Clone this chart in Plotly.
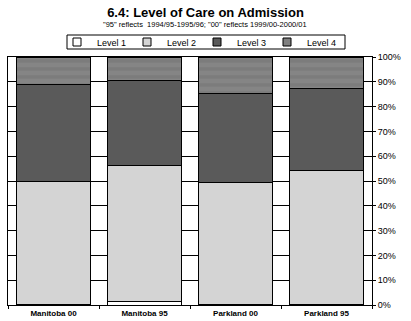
import plotly.graph_objects as go

categories = ["Manitoba 00", "Manitoba 95", "Parkland 00", "Parkland 95"]
level1 = [0.4, 1.6, 0.1, 0.1]
level2 = [49.2, 54.7, 49.1, 54.3]
level3 = [39.3, 34.3, 36.1, 32.8]
level4 = [11.1, 9.4, 14.7, 12.8]
series_names = ["Level 1", "Level 2", "Level 3", "Level 4"]
tick_vals = [0, 10, 20, 30, 40, 50, 60, 70, 80, 90, 100]
tick_text = [f"{v}%" for v in tick_vals]

FONT = "Liberation Sans, Arial, sans-serif"
W, H = 411, 321
ML, MR, MT, MB = 8, 39, 57, 16
PW, PH = W - ML - MR, H - MT - MB

def px_x(x):
    return (x - ML) / PW

def px_y(y):
    return (H - MB - y) / PH

fig = go.Figure()
colors = ["#ffffff", "#d4d4d4", "#5a5a5a", "#808080"]
styles = [
    dict(color=colors[0]),
    dict(color=colors[1]),
    dict(color=colors[2]),
    dict(color=colors[3], pattern=dict(shape="-", fgcolor="#747474", bgcolor="#858585", size=8, solidity=0.45)),
]
for name, vals, st in zip(series_names, [level1, level2, level3, level4], styles):
    fig.add_trace(go.Bar(
        x=categories, y=vals, name=name, showlegend=False,
        marker=dict(line=dict(color="#000000", width=1), **st),
    ))
# legend keys (small squares as in the reference)
for name, col in zip(series_names, colors):
    fig.add_trace(go.Scatter(
        x=[None], y=[None], mode="markers", name=name, showlegend=True,
        marker=dict(symbol="square", size=8, color=col, line=dict(color="black", width=1)),
    ))

fig.update_layout(
    barmode="stack",
    bargap=0.19,
    width=W, height=H,
    margin=dict(l=ML, r=MR, t=MT, b=MB, autoexpand=False),
    paper_bgcolor="white", plot_bgcolor="white",
    font=dict(family=FONT, color="black", size=9),
    title=dict(text="<b>6.4: Level of Care on Admission</b>", x=0.5, xref="container", xanchor="center",
               y=1 - 12 / H, yanchor="middle", font=dict(size=13, family=FONT)),
    showlegend=True,
    legend=dict(orientation="h", xref="paper", yref="paper", x=px_x(197), xanchor="center",
                y=px_y(42), yanchor="middle", borderwidth=0, bgcolor="rgba(0,0,0,0)",
                font=dict(size=9, family=FONT), traceorder="normal",
                entrywidth=25, itemwidth=30, tracegroupgap=0),
    shapes=[dict(type="rect", xref="paper", yref="paper", x0=px_x(67), x1=px_x(345),
                 y0=px_y(49), y1=px_y(35), line=dict(color="black", width=1),
                 fillcolor="white", layer="below")],
    annotations=[dict(text='"95" reflects  1994/95-1995/96; "00" reflects 1999/00-2000/01',
                      xref="paper", yref="paper", x=px_x(205.5), y=px_y(25), yanchor="middle",
                      xanchor="center", showarrow=False, font=dict(size=7.5, family=FONT))],
)
fig.update_xaxes(showline=True, linecolor="black", linewidth=1, mirror=True,
                 ticks="outside", tickson="boundaries", ticklen=3, tickcolor="black",
                 tickfont=dict(size=8, family=FONT), tickprefix="<b>", ticksuffix="</b>")
fig.update_yaxes(side="right", range=[0, 100], tickvals=tick_vals, ticktext=tick_text,
                 showgrid=True, gridcolor="black", gridwidth=1,
                 showline=True, linecolor="black", linewidth=1, mirror=True,
                 ticks="outside", ticklen=3, tickcolor="black", tickfont=dict(size=9, family=FONT))
fig.write_html("out.html", config={"displayModeBar": False},
               post_script="document.body.style.margin='0';")
